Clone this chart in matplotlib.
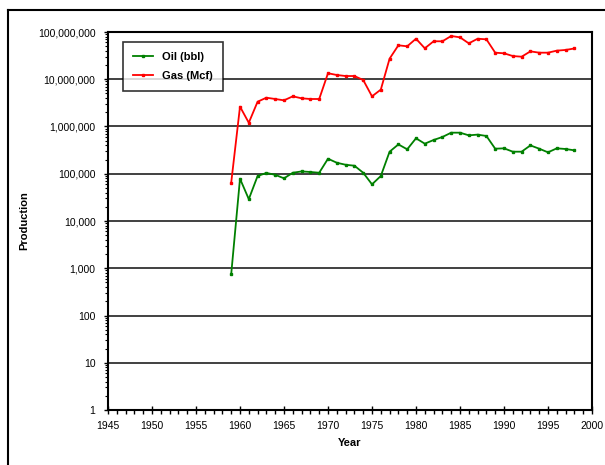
import matplotlib
matplotlib.use("Agg")
import matplotlib.pyplot as plt
from matplotlib.ticker import FixedLocator, FuncFormatter, LogLocator, NullFormatter, MultipleLocator

plt.rcParams['font.family'] = ['Liberation Sans', 'DejaVu Sans']

years = list(range(1959, 1999))
oil = [750, 78500, 29000, 89600, 104000, 95000, 80000, 105000, 112000, 109000,
       105000, 208000, 171000, 155000, 148000, 105000, 59700, 89600, 293000, 418000,
       329000, 563000, 433000, 518000, 600000, 740000, 740000, 650000, 673000, 630000,
       339000, 345000, 293000, 293000, 398000, 339000, 284000, 345000, 334000, 313000]
gas = [64700, 2630000, 1200000, 3350000, 4070000, 3820000, 3580000, 4350000, 3950000, 3820000,
       3820000, 13400000, 12300000, 11700000, 11700000, 9640000, 4350000, 6030000, 27300000, 52300000,
       49800000, 72100000, 45200000, 63600000, 63600000, 82300000, 77100000, 57500000, 72000000, 70000000,
       36500000, 35400000, 31000000, 30000000, 38900000, 36500000, 36500000, 40300000, 41700000, 44800000]

fig = plt.figure(figsize=(6.05, 4.65), dpi=100)
ax = fig.add_axes([108/605, 1 - 410/465, 484/605, 378/465])

ax.plot(years, oil, color='#008000', lw=1.3, marker='s', ms=1.6, label='Oil (bbl)')
ax.plot(years, gas, color='#ff0000', lw=1.3, marker='s', ms=1.6, label='Gas (Mcf)')

ax.set_yscale('log')
ax.set_ylim(1, 1e8)
ax.set_xlim(1945, 2000)
ax.yaxis.set_major_locator(FixedLocator([10**i for i in range(9)]))
ax.yaxis.set_minor_locator(LogLocator(base=10, subs=range(2, 10), numticks=20))
ax.yaxis.set_minor_formatter(NullFormatter())
ax.yaxis.set_major_formatter(FuncFormatter(lambda v, p: f"{int(round(v)):,}"))
ax.xaxis.set_major_locator(MultipleLocator(5))
ax.xaxis.set_minor_locator(MultipleLocator(1))

ax.grid(axis='y', which='major', color='#202020', lw=1.2)
ax.set_axisbelow(True)
for s in ax.spines.values():
    s.set_linewidth(1.5)
    s.set_color('black')

ax.tick_params(axis='both', which='major', labelsize=7.5, width=1, color='black')
ax.tick_params(axis='x', which='major', direction='inout', length=6, pad=5)
ax.tick_params(axis='x', which='minor', direction='out', length=3, width=1)
ax.tick_params(axis='y', which='major', direction='out', length=3, pad=6)
ax.tick_params(axis='y', which='minor', direction='out', length=2, width=0.8)

ax.set_xlabel('Year', fontsize=8, fontweight='bold', labelpad=5)
ax.set_ylabel('Production', fontsize=8, fontweight='bold', labelpad=6)

leg = fig.legend(loc='upper left', bbox_to_anchor=(123/605, 1 - 42/465),
                 prop={'weight': 'bold', 'size': 8}, frameon=True, fancybox=False,
                 handlelength=1.8, borderaxespad=0, borderpad=0.9, labelspacing=0.8,
                 markerscale=1.0)
leg.get_frame().set_edgecolor('black')
leg.get_frame().set_linewidth(1.2)

# outer chart frame
fig.add_artist(plt.Line2D([8/605, 8/605], [0, 1 - 10/465], color='black', lw=1.5,
                          transform=fig.transFigure))
fig.add_artist(plt.Line2D([8/605, 1], [1 - 10/465, 1 - 10/465], color='black', lw=1.5,
                          transform=fig.transFigure))

fig.savefig('out.png', dpi=100)
